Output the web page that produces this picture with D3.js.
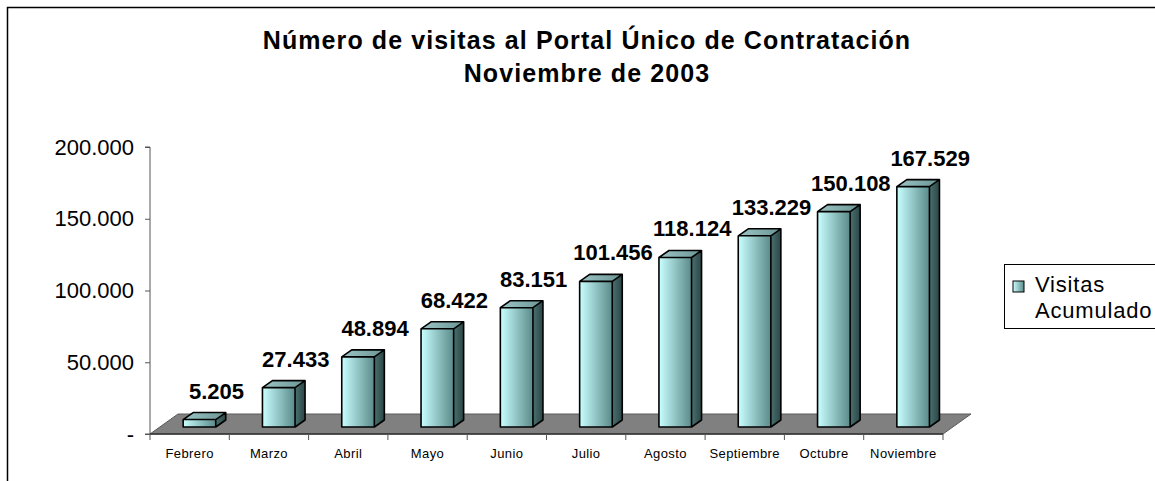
<!DOCTYPE html>
<html>
<head>
<meta charset="utf-8">
<script src="https://cdn.jsdelivr.net/npm/d3@7"></script>
<style>
  body { margin: 0; background: #fff; }
  svg { display: block; font-family: Arial, "Liberation Sans", sans-serif; }
</style>
</head>
<body>
<svg id="chart" width="1155" height="481"></svg>
<script>
// data
const months = ['Febrero', 'Marzo', 'Abril', 'Mayo', 'Junio', 'Julio', 'Agosto', 'Septiembre', 'Octubre', 'Noviembre'];
const visits = [5205, 27433, 48894, 68422, 83151, 101456, 118124, 133229, 150108, 167529];
const yTicks = [0, 50000, 100000, 150000, 200000];
const titleLines = ['Número de visitas al Portal Único de Contratación', 'Noviembre de 2003'];
const legendLines = ['Visitas', 'Acumulado'];

const svg = d3.select('#chart');
const fmt = function(v) {
	if (v === 0) return '-';
	return d3.format(',')(v).replace(/,/g, '.');
};

// frame
svg.append('rect')
	.attr('x', 7.5).attr('y', 7.5)
	.attr('width', 1300).attr('height', 600)
	.style('fill', 'none')
	.style('stroke', '#000')
	.style('stroke-width', 1.5);

// gradients
const defs = svg.append('defs');
function addGradient(id, c1, c2) {
	let g = defs.append('linearGradient').attr('id', id)
		.attr('x1', '0%').attr('x2', '100%').attr('y1', '0%').attr('y2', '0%');
	g.append('stop').attr('offset', '0%').attr('stop-color', c1);
	g.append('stop').attr('offset', '100%').attr('stop-color', c2);
}
addGradient('gFront', '#c9ffff', '#5b8a8a');
addGradient('gSide', '#4a7070', '#2c4646');
addGradient('gTop', '#9cc4c4', '#6b9696');

// scales
const plotLeft = 150, plotRight = 943, plotBottom = 434, plotTop = 147;
const depthX = 28, depthY = -20;
const xScale = d3.scaleBand().domain(months).range([plotLeft, plotRight]).padding(0);
const yScale = d3.scaleLinear().domain([0, 200000]).range([plotBottom, plotTop]);

// floor
const floor = [
	[plotLeft, plotBottom], [plotRight, plotBottom],
	[plotRight + depthX, plotBottom + depthY], [plotLeft + depthX, plotBottom + depthY]
];
svg.append('path')
	.attr('d', d3.line()(floor) + 'Z')
	.style('fill', '#808080')
	.style('stroke', '#5a5a5a')
	.style('stroke-width', 1);

// y axis
const yAxis = d3.axisLeft(yScale)
	.tickValues(yTicks)
	.tickSize(5)
	.tickPadding(11)
	.tickFormat(fmt);
const yAxisG = svg.append('g')
	.attr('transform', 'translate(' + plotLeft + ',0)')
	.call(yAxis);
yAxisG.select('.domain').attr('d', 'M-5,' + plotTop + 'H0V' + plotBottom + 'H-5')
	.style('stroke', '#555');
yAxisG.selectAll('.tick line').style('stroke', '#555');
yAxisG.selectAll('.tick text')
	.style('font-size', '22px')
	.style('fill', '#000')
	.attr('font-family', null);

// x axis
const xAxisG = svg.append('g').attr('transform', 'translate(0,' + plotBottom + ')');
xAxisG.append('line')
	.attr('x1', plotLeft).attr('x2', plotRight)
	.style('stroke', '#333').style('stroke-width', 1.5);
const boundaries = months.map(function(m) { return xScale(m); }).concat([plotRight]);
xAxisG.selectAll('.xtick')
	.data(boundaries)
	.enter().append('line')
	.attr('x1', function(d) { return d; }).attr('x2', function(d) { return d; })
	.attr('y1', 0).attr('y2', 6)
	.style('stroke', '#555');
xAxisG.selectAll('.xlabel')
	.data(months)
	.enter().append('text')
	.attr('x', function(d) { return xScale(d) + xScale.bandwidth() / 2; })
	.attr('y', 24)
	.attr('text-anchor', 'middle')
	.style('font-size', '13px')
	.style('letter-spacing', '0.4px')
	.text(function(d) { return d; });

// bars
const barWidth = 32.6;
const frontShiftX = depthX * 0.35, frontShiftY = depthY * 0.35;
const sideX = 10, sideY = -7;
const bars = svg.append('g').selectAll('g')
	.data(months.map(function(m, i) { return { month: m, value: visits[i] }; }))
	.enter().append('g');

bars.each(function(d) {
	let g = d3.select(this);
	let x0 = xScale(d.month) + xScale.bandwidth() / 2 + frontShiftX - barWidth / 2;
	let x1 = x0 + barWidth;
	let yb = plotBottom + frontShiftY;
	let yt = yScale(d.value) + frontShiftY;
	let line = d3.line();

	g.append('path')
		.attr('d', line([[x1, yb], [x1 + sideX, yb + sideY], [x1 + sideX, yt + sideY], [x1, yt]]) + 'Z')
		.style('fill', 'url(#gSide)');
	g.append('path')
		.attr('d', line([[x0, yt], [x1, yt], [x1 + sideX, yt + sideY], [x0 + sideX, yt + sideY]]) + 'Z')
		.style('fill', 'url(#gTop)');
	g.append('rect')
		.attr('x', x0).attr('y', yt)
		.attr('width', barWidth).attr('height', yb - yt)
		.style('fill', 'url(#gFront)');

	// outline
	g.append('path')
		.attr('d', line([[x0, yb], [x0, yt], [x0 + sideX, yt + sideY], [x1 + sideX, yt + sideY],
			[x1 + sideX, yb + sideY], [x1, yb]]) + 'Z' +
			line([[x0, yt], [x1, yt], [x1 + sideX, yt + sideY]]) +
			line([[x1, yt], [x1, yb]]))
		.style('fill', 'none')
		.style('stroke', '#000')
		.style('stroke-width', 1.6)
		.style('stroke-linejoin', 'round');

	g.append('text')
		.attr('x', (x0 + x1) / 2 + 17)
		.attr('y', yt + sideY - 14)
		.attr('text-anchor', 'middle')
		.style('font-size', '22px')
		.style('font-weight', 'bold')
		.text(fmt(d.value));
});

// title
svg.append('g').selectAll('text')
	.data(titleLines)
	.enter().append('text')
	.attr('x', 587)
	.attr('y', function(d, i) { return 49 + i * 33; })
	.attr('text-anchor', 'middle')
	.style('font-size', '25px')
	.style('font-weight', 'bold')
	.style('letter-spacing', '1.1px')
	.text(function(d) { return d; });

// legend
const legend = svg.append('g');
legend.append('rect')
	.attr('x', 1004.5).attr('y', 264.5)
	.attr('width', 200).attr('height', 64)
	.style('fill', '#fff')
	.style('stroke', '#000')
	.style('stroke-width', 1);
legend.append('rect')
	.attr('x', 1013).attr('y', 281)
	.attr('width', 11).attr('height', 11)
	.style('fill', 'url(#gFront)')
	.style('stroke', '#000')
	.style('stroke-width', 1);
legend.selectAll('.ltext')
	.data(legendLines)
	.enter().append('text')
	.attr('x', 1035)
	.attr('y', function(d, i) { return 292 + i * 26; })
	.style('font-size', '22px')
	.style('letter-spacing', '0.8px')
	.text(function(d) { return d; });
</script>
</body>
</html>
